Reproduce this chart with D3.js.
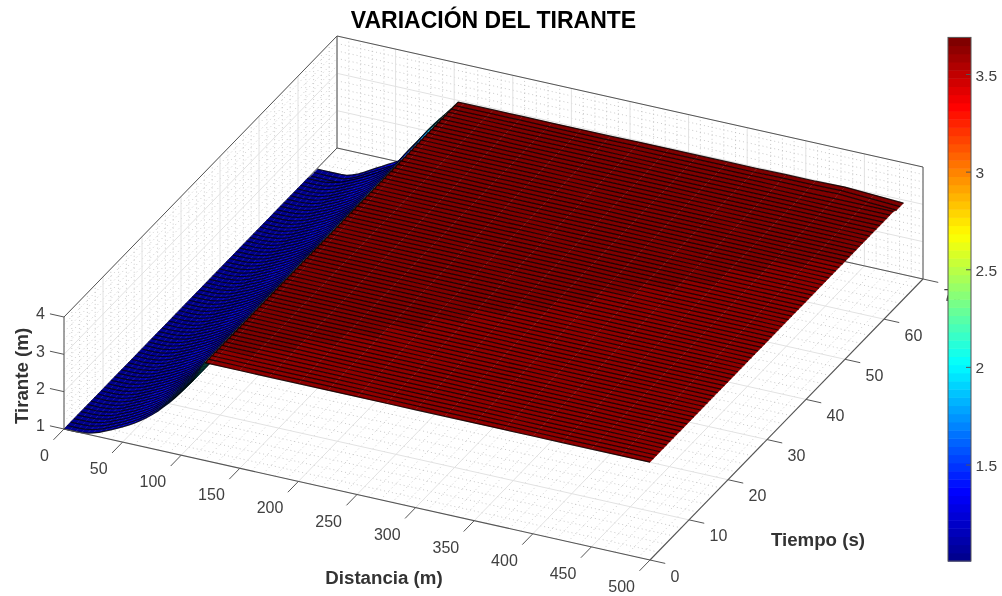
<!DOCTYPE html>
<html><head><meta charset="utf-8">
<script src="https://cdn.jsdelivr.net/npm/d3@7"></script>
<style>
html,body{margin:0;padding:0;background:#fff;overflow:hidden}
svg{display:block;font-family:"Liberation Sans",Arial,sans-serif;filter:blur(0.3px)}
#surf{filter:blur(0.55px)}
</style></head><body>
<svg id="c" width="1002" height="596"></svg>
<script>
const chartTitle = "VARIACIÓN DEL TIRANTE";
const xLabel = "Distancia (m)", tLabel = "Tiempo (s)", zLabel = "Tirante (m)";
const xTicks = [0,50,100,150,200,250,300,350,400,450,500];
const tTicks = [0,10,20,30,40,50,60,70];
const zTicks = [1,2,3,4];
const xMinor = [10,20,30,40,60,70,80,90,110,120,130,140,160,170,180,190,210,220,230,240,260,270,280,290,310,320,330,340,360,370,380,390,410,420,430,440,460,470,480,490];
const tMinor = [2,4,6,8,12,14,16,18,22,24,26,28,32,34,36,38,42,44,46,48,52,54,56,58,62,64,66,68];
const zMinor = [1.2,1.4,1.6,1.8,2.2,2.4,2.6,2.8,3.2,3.4,3.6,3.8];
const cbTicks = [1.5,2,2.5,3,3.5];
const cbRange = [1.008,3.69];

// mesh coordinates of the surface
const xNodes = [0,5,10,15,20,25,30,35,40,45,50,55,60,65,70,75,80,85,90,95,100,105,110,115,120,125,150,175,200,225,250,275,300,325,350,375,400,425,450,475,500];
// depth along x, read from the t = 0 edge
const depth   = [1,1,1,1.01,1.03,1.07,1.12,1.19,1.26,1.33,1.41,1.49,1.58,1.68,1.79,1.91,2.04,2.19,2.34,2.51,2.69,2.88,3.07,3.33,3.62,3.62,3.62,3.62,3.62,3.62,3.62,3.62,3.62,3.62,3.62,3.62,3.62,3.62,3.62,3.62,3.62];
// depth along x, read from the far t edge
const depthFar = [0.97,0.97,0.97,0.97,0.97,0.98,1.03,1.09,1.17,1.26,1.35,1.43,1.52,1.6,1.69,1.9,2.11,2.3,2.49,2.7,2.9,3.07,3.24,3.42,3.61,3.61,3.61,3.61,3.61,3.61,3.61,3.62,3.62,3.62,3.62,3.62,3.63,3.63,3.65,3.61,3.57];
// colour data of the rising front (seen nearly edge on), x = 0 .. 115
const frontC = [1.02,1.02,1.03,1.04,1.05,1.06,1.08,1.1,1.13,1.16,1.2,1.24,1.28,1.33,1.38,1.44,1.5,1.58,1.66,1.76,1.86,1.96,2.04,2.1];
// plateau: time above which the level sits one colour step higher, x = 120 .. 500
const ridgeT = [2,3,6,9.5,13,16,19.5,23,26,29,32.5,36,39,42.5,46,49,52];
const plateauLow = 3.62, plateauHigh = 3.68;
const tNodes = [0,0.87,1.73,2.6,3.47,4.33,5.2,6.07,6.93,7.8,8.67,9.53,10.4,11.27,12.13,13,13.87,14.73,15.6,16.47,17.33,18.2,19.07,19.93,20.8,21.67,22.53,23.4,24.27,25.13,26,26.87,27.73,28.6,29.47,30.33,31.2,32.07,32.93,33.8,34.67,35.53,36.4,37.27,38.13,39,39.87,40.73,41.6,42.47,43.33,44.2,45.07,45.93,46.8,47.67,48.53,49.4,50.27,51.13,52,52.87,53.73,54.6,55.47,56.33,57.2,58.07,58.93,59.8,60.67,61.53,62.4,63.27,64.13,65];
const farFromT = 63.2;

// jet colour map anchors
const jetPos = [0,0.125,0.375,0.625,0.875,1];
const jetCol = ["#00008f","#0000ff","#00ffff","#ffff00","#ff0000","#800000"];

const svg = d3.select("#c");
const INK = "#404040", BOX = "#555555";

// oblique (orthographic) projection through linear scales
const xPx = d3.scaleLinear().domain([0,500]).range([64,650]);
const xPy = d3.scaleLinear().domain([0,500]).range([0,131]);
const tPx = d3.scaleLinear().domain([0,70]).range([0,273]);
const tPy = d3.scaleLinear().domain([0,70]).range([0,-281]);
const zPy = d3.scaleLinear().domain([1,4]).range([429,317]);
const P = (x,t,z) => [xPx(x)+tPx(t), xPy(x)+tPy(t)+zPy(z)];
const line = d3.line();

const jetRamp = d3.scaleLinear().domain(jetPos).range(jetCol).interpolate(d3.interpolateRgb).clamp(true);
const colorFrac = d3.scaleLinear().domain(cbRange).range([0,1]).clamp(true);
const levels = 64;
const jet = z => jetRamp(Math.min(levels-1, Math.floor(colorFrac(z)*levels))/(levels-1));

const seg = (g,a,b,stroke,w,dash) => g.append("path").attr("d",line([a,b])).attr("fill","none")
  .attr("stroke",stroke).attr("stroke-width",w).attr("stroke-dasharray",dash||null);

// grids
const grid = svg.append("g");
function gridSet(xs,ts,zs,stroke,w,dash){
  xs.forEach(x=>{ seg(grid,P(x,0,1),P(x,70,1),stroke,w,dash); seg(grid,P(x,70,1),P(x,70,4),stroke,w,dash); });
  ts.forEach(t=>{ seg(grid,P(0,t,1),P(500,t,1),stroke,w,dash); seg(grid,P(0,t,1),P(0,t,4),stroke,w,dash); });
  zs.forEach(z=>{ seg(grid,P(0,0,z),P(0,70,z),stroke,w,dash); seg(grid,P(0,70,z),P(500,70,z),stroke,w,dash); });
}
gridSet(xMinor,tMinor,zMinor,"#bdbdbd",0.8,"1 3");
gridSet(xTicks,tTicks,zTicks,"#e2e2e2",1);

// back edges of the box
const box = svg.append("g");
[[P(0,70,1),P(500,70,1)],[P(0,70,1),P(0,0,1)],[P(0,70,1),P(0,70,4)],[P(0,70,4),P(500,70,4)],
 [P(0,70,4),P(0,0,4)],[P(0,0,1),P(0,0,4)],[P(500,70,1),P(500,70,4)]].forEach(s=>seg(box,s[0],s[1],BOX,1));

// surface, painted back to front
const zAt = (i,k) => (tNodes[k] >= farFromT ? depthFar : depth)[i];
const nF = frontC.length;
const cAt = (i,k) => i < nF ? frontC[i] : (tNodes[k] >= ridgeT[i-nF] ? plateauHigh : plateauLow);
const surf = svg.append("g").attr("id","surf");
const rowIdx = d3.range(tNodes.length-1).reverse();
const colIdx = xNodes.slice(0,-1).map((_,i)=>i);
const rowLine = k => line(xNodes.map((x,i)=>P(x,tNodes[k],zAt(i,k))));
const strips = surf.selectAll("g.strip").data(rowIdx).join("g").attr("class","strip");
strips.selectAll("path.q").data(k=>colIdx.map(i=>({i,k}))).join("path").attr("class","q")
  .attr("d",d=>{
    const {i,k}=d;
    return line([P(xNodes[i],tNodes[k+1],zAt(i,k+1)),P(xNodes[i+1],tNodes[k+1],zAt(i+1,k+1)),
      P(xNodes[i+1],tNodes[k],zAt(i+1,k)),P(xNodes[i],tNodes[k],zAt(i,k))])+"Z";
  })
  .attr("fill",d=>jet(cAt(d.i,d.k))).attr("stroke",d=>jet(cAt(d.i,d.k))).attr("stroke-width",0.4);
strips.append("path").attr("d",k=>rowLine(k+1)).attr("fill","none").attr("stroke","#000").attr("stroke-width",1.25).attr("stroke-opacity",0.8);
surf.append("path").attr("d",rowLine(0)).attr("fill","none").attr("stroke","#000").attr("stroke-width",1.25).attr("stroke-opacity",0.8);

// front edges and ticks
const front = svg.append("g");
seg(front,P(0,0,1),P(500,0,1),BOX,1.1);
seg(front,P(500,0,1),P(500,70,1),BOX,1.1);
const tickX = 2.7, tickT = 13, tickZ = 12;
const labels = svg.append("g").attr("fill",INK).attr("font-size",16);
xTicks.forEach(x=>{
  const a=P(x,0,1), b=P(x,-tickX,1); seg(front,a,b,BOX,1);
  labels.append("text").attr("x",a[0]-15).attr("y",a[1]+32).attr("text-anchor","end").text(x);
});
tTicks.forEach(t=>{
  const a=P(500,t,1), b=P(500+tickT,t,1); seg(front,a,b,BOX,1);
  labels.append("text").attr("x",a[0]+20.5).attr("y",a[1]+21.5).text(t);
});
zTicks.forEach(z=>{
  const a=P(0,0,z), b=P(-tickZ,0,z); seg(front,a,b,BOX,1);
  labels.append("text").attr("x",b[0]-5).attr("y",b[1]+5.5).attr("text-anchor","end").text(z);
});

// titles
svg.append("text").attr("x",493.5).attr("y",28).attr("text-anchor","middle").attr("font-size",23).attr("font-weight","bold").attr("fill","#000").text(chartTitle);
const lab = svg.append("g").attr("font-size",18.7).attr("font-weight","bold").attr("fill","#333");
lab.append("text").attr("x",384).attr("y",583.5).attr("text-anchor","middle").text(xLabel);
lab.append("text").attr("x",818).attr("y",546).attr("text-anchor","middle").text(tLabel);
lab.append("text").attr("transform","translate(28,376) rotate(-90)").attr("text-anchor","middle").text(zLabel);

// colour bar
const cbY = d3.scaleLinear().domain([1.5,3.5]).range([465,74.5]);
const cb = svg.append("g");
const cbX0=948, cbW=23, cbTop=cbY(cbRange[1]), cbBot=cbY(cbRange[0]);
const cbLevels = d3.range(levels);
cb.selectAll("rect").data(cbLevels).join("rect")
  .attr("x",cbX0).attr("width",cbW)
  .attr("y",i=>cbBot-(i+1)*(cbBot-cbTop)/levels).attr("height",(cbBot-cbTop)/levels+0.5)
  .attr("fill",i=>jetRamp(i/(levels-1)));
cb.append("rect").attr("x",cbX0).attr("y",cbTop).attr("width",cbW).attr("height",cbBot-cbTop).attr("fill","none").attr("stroke",BOX).attr("stroke-width",1);
cbTicks.forEach(v=>{
  seg(cb,[cbX0+cbW-5,cbY(v)],[cbX0+cbW,cbY(v)],BOX,1);
  cb.append("text").attr("x",975.5).attr("y",cbY(v)+6).attr("font-size",15.5).attr("fill",INK).text(v);
});
</script>
</body></html>
